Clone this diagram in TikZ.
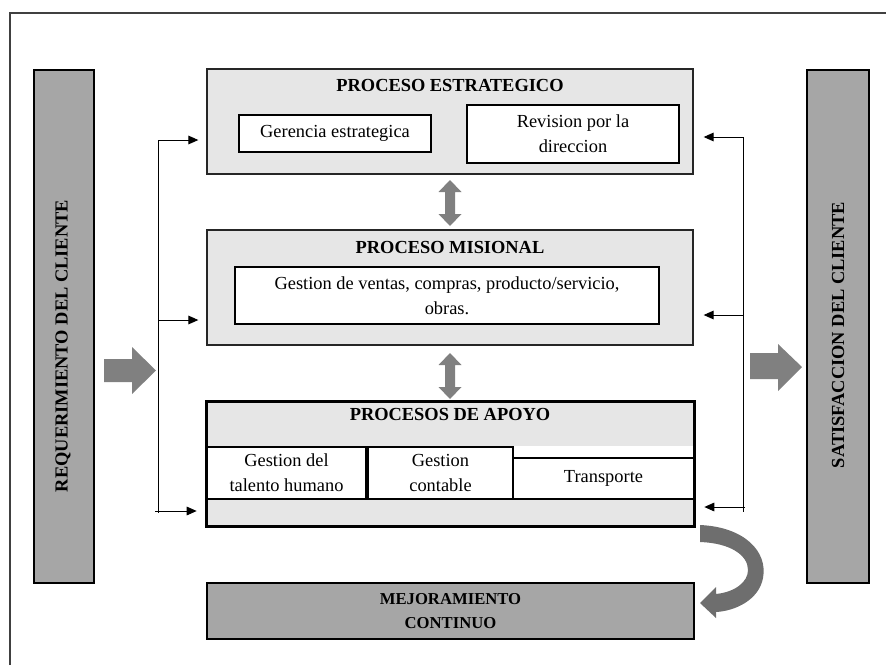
\documentclass[tikz,border=0pt]{standalone}
\usepackage{fontspec}
\setmainfont{Liberation Serif}
\usetikzlibrary{arrows.meta}

\definecolor{bargray}{HTML}{A6A6A6}
\definecolor{boxgray}{HTML}{E6E6E6}
\definecolor{arrgray}{HTML}{808080}
\definecolor{curvegray}{HTML}{6E6E6E}

\tikzset{
  proc/.style={draw=black!85, line width=1pt, fill=boxgray, inner sep=0pt},
  sub/.style={draw=black, line width=0.9pt, fill=white, align=center, inner sep=0pt,
    font=\fontsize{13.8}{18.5}\selectfont},
  title/.style={font=\fontsize{13.8}{18}\selectfont\bfseries},
  bar/.style={draw=black, line width=1.6pt, fill=bargray, inner sep=0pt},
  link/.style={-{Triangle[length=7.5pt,width=6.5pt]}, line width=0.7pt},
}

\begin{document}
\begin{tikzpicture}[x=0.75pt,y=-0.75pt]
\useasboundingbox (0,0) rectangle (886,665);
% frame
\draw[line width=0.8pt, black!75] (10,665) -- (10,13) -- (886,13);

% client bars
\node[bar, minimum width=45pt, minimum height=384.75pt] (req) at (64,326.5) {};
\node[title, rotate=90] (reqtxt) at (63,346) {REQUERIMIENTO DEL CLIENTE};
\node[bar, minimum width=46.5pt, minimum height=384.75pt] (sat) at (838,326.5) {};
\node[title, rotate=90] (sattxt) at (838,335) {SATISFACCION DEL CLIENTE};

% strategic process
\node[proc, minimum width=364.5pt, minimum height=78.75pt] (est) at (450,121.5) {};
\node[title] (esttit) at (450,85) {PROCESO ESTRATEGICO};
\node[sub, minimum width=144pt, minimum height=27.75pt] (ger) at (335,133.5) {Gerencia estrategica};
\node[sub, minimum width=159pt, minimum height=43.5pt] (rev) at (573,134) {Revision por la\\direccion};

% mission process
\node[proc, minimum width=364.5pt, minimum height=86.25pt] (mis) at (450,287.5) {};
\node[title] (mistit) at (450,247) {PROCESO MISIONAL};
\node[sub, minimum width=318pt, minimum height=42.75pt] (gven) at (447,295.5)
  {Gestion de ventas, compras, producto/servicio,\\obras.};

% support processes
\node[proc, draw=black, line width=1.5pt, minimum width=365.25pt, minimum height=93pt] (apo) at (450.5,464) {};
\fill[white] (208,446) rectangle (693,499);
\node[title] (apotit) at (450,414) {PROCESOS DE APOYO};
\node[sub, line width=1.3pt, minimum width=119.25pt, minimum height=39pt] (tal) at (286.5,473) {Gestion del\\talento humano};
\node[sub, line width=1.3pt, minimum width=108.75pt, minimum height=39pt] (con) at (440.5,473) {Gestion\\contable};
\node[sub, line width=1.3pt, minimum width=135.75pt, minimum height=30.75pt] (tra) at (603.5,478.5) {Transporte};
\draw[line width=1.5pt] (apo.south west) rectangle (apo.north east);

% continuous improvement
\node[bar, line width=0.9pt, minimum width=365.25pt, minimum height=42pt, align=center,
  font=\fontsize{12.5}{18}\selectfont\bfseries] (mej) at (450.5,611) {MEJORAMIENTO\\CONTINUO};

% left feedback lines
\coordinate (lt) at (158,140);
\coordinate (lm) at (158,320);
\coordinate (lb) at (158,513);
\coordinate (la) at (155,511);
\draw[line width=0.7pt] (lt) -- (lb);
\draw[link, shorten >=6pt] (lt) -- (lt -| est.west);
\draw[link, shorten >=6pt] (lm) -- (lm -| mis.west);
\draw[link, shorten >=7pt] (la) -- (la -| apo.west);

% right feedback lines
\coordinate (rt) at (743,137);
\coordinate (rm) at (743,315);
\coordinate (rb) at (745,507);
\coordinate (re) at (743,512);
\draw[line width=0.7pt] (rt) -- (re);
\draw[link, shorten >=7.5pt] (rt) -- (rt -| est.east);
\draw[link, shorten >=7.5pt] (rm) -- (rm -| mis.east);
\draw[link, shorten >=7pt] (rb) -- (rb -| apo.east);

% input and output arrows
\fill[arrgray] (104,359) -- (132,359) -- (132,347) -- (156,370.5) -- (132,394) -- (132,382) -- (104,382) -- cycle;
\fill[arrgray] (750,353) -- (778,353) -- (778,344) -- (802,367) -- (778,391) -- (778,379) -- (750,379) -- cycle;

% double arrows between processes
\foreach \y in {180,353}
  \fill[arrgray] (450,\y) -- (461.5,{\y+12}) -- (455,{\y+12}) -- (455,{\y+34}) -- (461.5,{\y+34})
    -- (450,{\y+46}) -- (438.5,{\y+34}) -- (445,{\y+34}) -- (445,{\y+12}) -- (438.5,{\y+12}) -- cycle;

% curved arrow to improvement
\fill[curvegray] (700,525) .. controls (745,527) and (768,552) .. (763,578)
  .. controls (759,600) and (735,611) .. (716,612) -- (716,618) -- (700,603) -- (716,587) -- (716,594)
  .. controls (735,592) and (748,582) .. (748,570) .. controls (748,555) and (730,543) .. (700,542) -- cycle;
\end{tikzpicture}
\end{document}
